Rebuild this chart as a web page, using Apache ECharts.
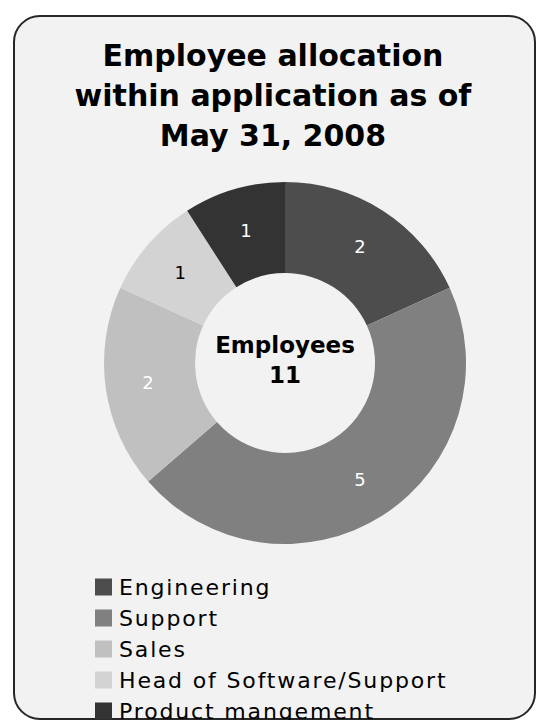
<!DOCTYPE html>
<html>
<head>
<meta charset="utf-8">
<script src="https://cdn.jsdelivr.net/npm/echarts@6/dist/echarts.min.js"></script>
<style>
  html, body { margin: 0; padding: 0; background: #ffffff; }
  #chart { width: 536px; height: 720px; }
  /* legend entries are set a little looser than the rest of the text */
  #chart text[style*="Verdana"] { letter-spacing: 1.85px; }
</style>
</head>
<body>
<div id="chart"></div>
<script>
// Staff split by function
const categories = ['Engineering', 'Support', 'Sales', 'Head of Software/Support', 'Product mangement'];
const employees = [2, 5, 2, 1, 1];
const sliceColors = ['#4d4d4d', '#808080', '#c0c0c0', '#d3d3d3', '#333333'];
const labelColors = ['#ffffff', '#ffffff', '#ffffff', '#000000', '#ffffff'];
const titleLines = ['Employee allocation', 'within application as of', 'May 31, 2008'];
const centerCaption = 'Employees';

const total = employees.reduce((a, b) => a + b, 0);
const FONT = '"DejaVu Sans", sans-serif';
const LEGEND_FONT = '"DejaVu Sans", Verdana, sans-serif';

const chart = echarts.init(document.getElementById('chart'), null, { renderer: 'svg' });

chart.setOption({
  backgroundColor: '#ffffff',
  animation: false,
  graphic: [
    {
      type: 'rect',
      z: -10,
      shape: { x: 14, y: 16, width: 521, height: 703, r: 26 },
      style: { fill: '#f2f2f2', stroke: '#262626', lineWidth: 2 }
    },
    {
      type: 'text',
      z: 10,
      style: {
        x: 273, y: 95,
        text: titleLines.join('\n'),
        align: 'center', verticalAlign: 'middle',
        font: 'bold 30px ' + FONT,
        lineHeight: 40,
        fill: '#000000'
      }
    },
    {
      type: 'text',
      z: 10,
      style: {
        x: 285, y: 360,
        text: centerCaption + '\n' + total,
        align: 'center', verticalAlign: 'middle',
        font: 'bold 23px ' + FONT,
        lineHeight: 30,
        fill: '#000000'
      }
    }
  ],
  legend: {
    orient: 'vertical',
    left: 95,
    top: 576,
    height: 220,
    padding: 0,
    itemWidth: 17,
    itemHeight: 17,
    itemGap: 9,
    icon: 'rect',
    selectedMode: false,
    data: categories,
    textStyle: { fontFamily: LEGEND_FONT, fontSize: 22, color: '#000000', padding: [0, 0, 0, 2] }
  },
  series: [
    {
      type: 'pie',
      center: [285, 363],
      radius: [90, 181],
      startAngle: 90,
      clockwise: true,
      silent: true,
      avoidLabelOverlap: false,
      label: {
        show: true,
        position: 'inside',
        fontFamily: FONT,
        fontSize: 18,
        formatter: '{c}'
      },
      labelLine: { show: false },
      itemStyle: { borderWidth: 0 },
      data: categories.map((name, i) => ({
        name: name,
        value: employees[i],
        itemStyle: { color: sliceColors[i] },
        label: { color: labelColors[i] }
      }))
    }
  ]
});
</script>
</body>
</html>
